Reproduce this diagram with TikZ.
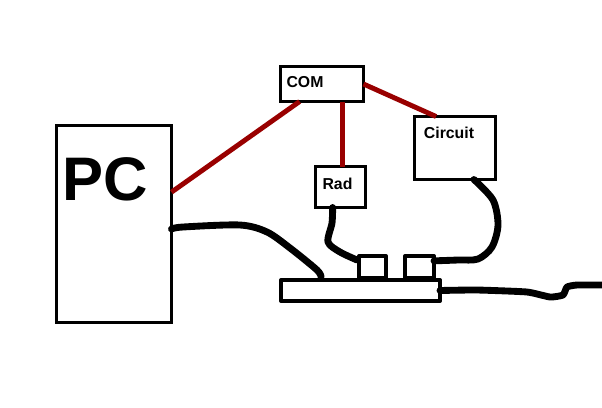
\documentclass[tikz,border=0pt]{standalone}
\usepackage{fontspec}
\setmainfont{Liberation Sans}
\usepackage{xcolor}
\definecolor{LinkRed}{HTML}{990000}
\tikzset{
  unit/.style={draw, line width=1.7pt, inner sep=0pt, outer sep=0pt},
  power/.style={draw, line width=2.3pt, inner sep=0pt, outer sep=0pt, fill=white, line join=round},
  wire/.style={line width=3.9pt, line cap=round, line join=round},
  link/.style={LinkRed, line width=2.8pt},
  tag/.style={inner sep=0pt, font=\fontsize{9}{10}\selectfont\bfseries}
}
\begin{document}
\begin{tikzpicture}[x=0.02cm, y=-0.02cm]
    \useasboundingbox (0,0) rectangle (602,407);

    % Boxes
    \node[unit, minimum width=2.3cm, minimum height=3.94cm] (pc) at (114,224) {};
    \node[unit, minimum width=1.66cm, minimum height=0.7cm] (com) at (322,84) {};
    \node[unit, minimum width=1cm, minimum height=0.82cm] (rad) at (340.5,187) {};
    \node[unit, minimum width=1.62cm, minimum height=1.26cm] (circuit) at (455,148) {};

    % Labels
    \node[tag, font=\fontsize{35}{38}\selectfont\bfseries] (pclabel) at (105,179) {PC};
    \node[tag] (comlabel) at (305,82) {COM};
    \node[tag] (radlabel) at (337.5,183.5) {Rad};
    \node[tag] (circuitlabel) at (449,133) {Circuit};

    % Power strip
    \node[power, minimum width=0.54cm, minimum height=0.44cm] (plugA) at (372.5,267) {};
    \node[power, minimum width=0.58cm, minimum height=0.44cm] (plugB) at (419.5,267) {};
    \node[power, minimum width=3.18cm, minimum height=0.42cm] (strip) at (360.5,290.5) {};
    \coordinate (mains) at (602,285);

    % Data lines
    \draw[link] (pc.29) -- (com.-142);
    \draw[link] (rad.85) -- (rad.85 |- com.south);
    \draw[link] (com.east) -- (circuit.121);

    % Cables
    \draw[wire] plot[smooth, tension=0.5] coordinates {(pc.-5) (183,227) (240,225) (267,232) (290,248) (317,270) (321,277)};
    \draw[wire] plot[smooth, tension=0.5] coordinates {(rad.-111) (332,223) (328,242) (340,252) (357,260)};
    \draw[wire] plot[smooth, tension=0.5] coordinates {(circuit.-59) (493,200) (498,225) (492,247) (478,259) (458,260) (plugB.23)};
    \draw[wire] plot[smooth, tension=0.3] coordinates {(strip.east) (477,290) (527,292) (550,297) (563,295) (567,287) (577,285) (mains)};
\end{tikzpicture}
\end{document}
